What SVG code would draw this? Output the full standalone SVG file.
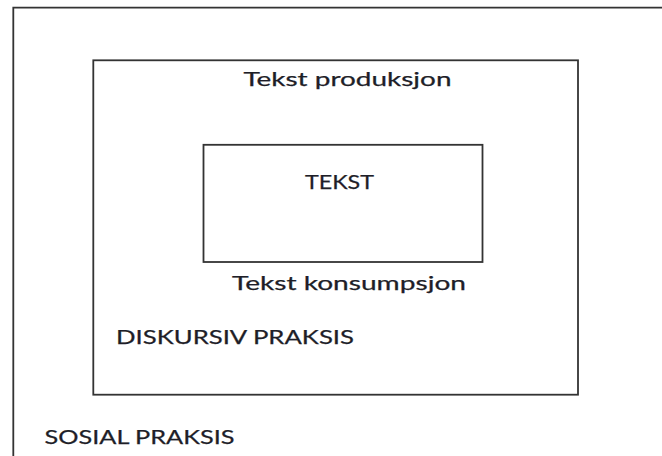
<svg xmlns="http://www.w3.org/2000/svg" width="662" height="456" viewBox="0 0 662 456">
  <style>
    .frame { fill: none; stroke: #333333; stroke-width: 1.8; }
    .label { font-family: Lato, "Open Sans", "Liberation Sans", sans-serif; font-size: 19px; fill: #1e1e28; stroke: #1e1e28; stroke-width: 0.25; }
  </style>
  <rect width="662" height="456" fill="#ffffff"/>

  <!-- Sosial praksis: outermost layer, open to the right and bottom -->
  <g id="sosial-praksis">
    <path class="frame" d="M13.3,456 V7.6 H662"/>
    <text class="label" x="44.5" y="444" textLength="190" lengthAdjust="spacingAndGlyphs">SOSIAL PRAKSIS</text>
  </g>

  <!-- Diskursiv praksis: middle layer -->
  <g id="diskursiv-praksis">
    <rect class="frame" x="93.3" y="60.3" width="484.7" height="334.4"/>
    <text class="label" x="243.5" y="86" textLength="208" lengthAdjust="spacingAndGlyphs">Tekst produksjon</text>
    <text class="label" x="232" y="290" textLength="234" lengthAdjust="spacingAndGlyphs">Tekst konsumpsjon</text>
    <text class="label" x="116" y="343.5" textLength="238" lengthAdjust="spacingAndGlyphs">DISKURSIV PRAKSIS</text>
  </g>

  <!-- Tekst: innermost layer -->
  <g id="tekst">
    <rect class="frame" x="203.5" y="144.8" width="279" height="117.2"/>
    <text class="label" x="305" y="189" textLength="69" lengthAdjust="spacingAndGlyphs">TEKST</text>
  </g>

  <g id="connectors"/>
</svg>
